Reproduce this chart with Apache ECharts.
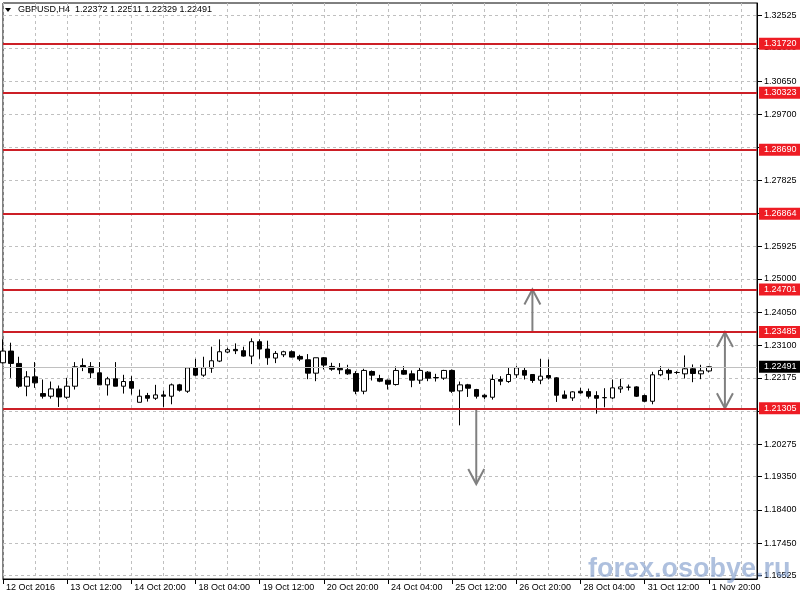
<!DOCTYPE html>
<html><head><meta charset="utf-8">
<script src="https://cdn.jsdelivr.net/npm/echarts@6/dist/echarts.min.js"></script>
<style>html,body{margin:0;padding:0;background:#fff}#c{width:800px;height:600px}</style>
</head><body><div id="c"></div>
<script>
const symbolName = 'GBPUSD,H4';
const opens  = [1.22606,1.22940,1.22587,1.21936,1.22204,1.21726,1.21650,1.21860,1.21621,1.21936,
                1.22529,1.22491,1.22319,1.21975,1.22147,1.21936,1.22070,1.21477,1.21669,1.21592,
                1.21688,1.21650,1.21975,1.21793,1.22462,1.22252,1.22453,1.22654,1.22912,1.22988,
                1.22950,1.22797,1.23208,1.22998,1.22740,1.22835,1.22921,1.22787,1.22692,1.22309,
                1.22749,1.22501,1.22443,1.22405,1.22300,1.21793,1.22357,1.22156,1.22109,1.21984,
                1.22386,1.22290,1.22109,1.22338,1.22185,1.22166,1.22386,1.21803,1.21975,1.21841,
                1.21678,1.21621,1.22128,1.22070,1.22262,1.22386,1.22271,1.22109,1.22242,1.22175,
                1.21688,1.21602,1.21793,1.21783,1.21669,1.21611,1.21602,1.21860,1.21908,1.21917,
                1.21669,1.21506,1.22262,1.22386,1.22328,1.22290,1.22434,1.22290,1.22372];
const closes = [1.22940,1.22587,1.21936,1.22204,1.22032,1.21650,1.21860,1.21630,1.21936,1.22491,
                1.22481,1.22319,1.21975,1.22147,1.21936,1.22070,1.21879,1.21650,1.21592,1.21688,
                1.21650,1.21975,1.21822,1.22462,1.22252,1.22462,1.22663,1.22921,1.22979,1.22950,
                1.22797,1.23208,1.22998,1.22749,1.22873,1.22921,1.22768,1.22711,1.22309,1.22749,
                1.22539,1.22424,1.22405,1.22290,1.21793,1.22386,1.22252,1.22080,1.21994,1.22386,
                1.22281,1.22109,1.22386,1.22166,1.22175,1.22386,1.21793,1.21975,1.21879,1.21650,
                1.21630,1.22128,1.22080,1.22271,1.22462,1.22252,1.22099,1.22223,1.22175,1.21678,
                1.21592,1.21774,1.21745,1.21650,1.21592,1.21607,1.21889,1.21917,1.21908,1.21650,
                1.21506,1.22262,1.22386,1.22309,1.22328,1.22434,1.22300,1.22376,1.22491];
const lows   = [1.22587,1.22175,1.21889,1.21650,1.21889,1.21583,1.21583,1.21344,1.21573,1.21841,
                1.22367,1.22166,1.21975,1.21669,1.21936,1.21726,1.21697,1.21477,1.21497,1.21544,
                1.21344,1.21420,1.21783,1.21745,1.22223,1.22204,1.22319,1.22625,1.22883,1.22854,
                1.22778,1.22568,1.22720,1.22548,1.22596,1.22768,1.22759,1.22654,1.22137,1.22080,
                1.22415,1.22376,1.22281,1.22262,1.21707,1.21707,1.22099,1.22051,1.21841,1.21956,
                1.22262,1.21908,1.22003,1.22080,1.22070,1.22118,1.21745,1.20818,1.21630,1.21583,
                1.21573,1.21554,1.21965,1.22032,1.22175,1.22128,1.22032,1.21994,1.22128,1.21487,
                1.21592,1.21516,1.21726,1.21583,1.21152,1.21334,1.21573,1.21745,1.21812,1.21630,
                1.21477,1.21420,1.22223,1.22109,1.22281,1.22156,1.22051,1.22137,1.22329];
const highs  = [1.23275,1.23179,1.22778,1.22367,1.22625,1.22128,1.22070,1.21956,1.22175,1.22625,
                1.22730,1.22625,1.22625,1.22204,1.22625,1.22262,1.22223,1.21841,1.21745,1.21975,
                1.21812,1.22013,1.22003,1.22462,1.22720,1.22778,1.23065,1.23275,1.23036,1.23160,
                1.23065,1.23304,1.23275,1.23237,1.22940,1.22950,1.22960,1.22835,1.22854,1.22749,
                1.22768,1.22606,1.22596,1.22548,1.22367,1.22434,1.22386,1.22262,1.22128,1.22501,
                1.22510,1.22386,1.22462,1.22367,1.22290,1.22405,1.22415,1.22070,1.22003,1.21860,
                1.21707,1.22271,1.22223,1.22481,1.22510,1.22481,1.22271,1.22720,1.22701,1.22195,
                1.21812,1.21793,1.21889,1.21869,1.21793,1.21879,1.22128,1.22147,1.21984,1.21936,
                1.21697,1.22348,1.22510,1.22434,1.22367,1.22816,1.22558,1.22548,1.22511];
const xTickLabels = ['12 Oct 2016','13 Oct 12:00','14 Oct 20:00','18 Oct 04:00','19 Oct 12:00','20 Oct 20:00',
                     '24 Oct 04:00','25 Oct 12:00','26 Oct 20:00','28 Oct 04:00','31 Oct 12:00','1 Nov 20:00'];
const yTickLabels = ['1.16525','1.17450','1.18400','1.19350','1.20275','1.21225','1.22175','1.23100','1.24050',
                     '1.25000','1.25925','1.26875','1.27825','1.28750','1.29700','1.30650','1.31600','1.32525'];
const levels = [1.31720,1.30323,1.28690,1.26864,1.24701,1.23485,1.21305];
const bidPrice = 1.22491;
const arrowBars = [66, 59, 90];
const arrowFrom = [1.23485, 1.21305, 1.21305];
const arrowTo   = [1.24701, 1.19142, 1.23485];
const arrowBoth = [0, 0, 1];
const emptyBarsRight = 6;

const FONT = 'Liberation Sans';
const nBars = opens.length;
const categories = [];
for (let i = 0; i < nBars + emptyBarsRight; i++) categories.push(String(i));
const candles = opens.map((o, i) => [o, closes[i], lows[i], highs[i]]);
const arrows = arrowBars.map((b, i) => [b, arrowFrom[i], arrowTo[i], arrowBoth[i]]);
const last = nBars - 1;
const titleText = symbolName + '  ' + [opens[last], highs[last], lows[last], closes[last]].map(v => v.toFixed(5)).join(' ');

const lvlLines = levels.map(v => ({
  yAxis: v,
  lineStyle: {color: '#cc1f26', width: 2, type: 'solid'},
  label: {show: true, position: 'end', distance: 2, formatter: p => Number(p.value).toFixed(5),
          backgroundColor: '#ee1c24', color: '#fff', padding: [2, 6, 1, 5], fontFamily: FONT, fontSize: 9}
}));
lvlLines.unshift({
  yAxis: bidPrice,
  lineStyle: {color: '#c0c0c0', width: 1, type: 'solid'},
  label: {show: true, position: 'end', distance: 2, formatter: p => Number(p.value).toFixed(5),
          backgroundColor: '#000', color: '#fff', padding: [2, 6, 1, 5], fontFamily: FONT, fontSize: 9}
});

const chart = echarts.init(document.getElementById('c'), null, {renderer: 'canvas'});
chart.setOption({
  animation: false,
  backgroundColor: '#ffffff',
  grid: {left: 3, top: 3, right: 43, bottom: 21, show: true, borderColor: '#000', borderWidth: 1, backgroundColor: 'transparent'},
  xAxis: {
    type: 'category', data: categories, boundaryGap: false,
    axisLine: {show: true, lineStyle: {color: '#000', width: 1}},
    axisTick: {show: true, interval: 7, length: 5, lineStyle: {color: '#000'}},
    axisLabel: {show: true, interval: 7, align: 'left', margin: 4, padding: [0, 0, 0, 3],
                color: '#000', fontFamily: FONT, fontSize: 9,
                formatter: (v, idx) => (idx % 8 === 0 && idx / 8 < xTickLabels.length) ? xTickLabels[idx / 8] : ''},
    splitLine: {show: true, interval: 3, lineStyle: {color: '#c0c0c0', type: [3, 3], width: 1}}
  },
  yAxis: {
    type: 'value', position: 'right', scale: true, min: 1.16428, max: 1.32885,
    axisLine: {show: true, lineStyle: {color: '#000', width: 1}},
    axisTick: {show: true, length: 5, customValues: yTickLabels.map(Number), lineStyle: {color: '#000'}},
    axisLabel: {show: true, margin: 7, customValues: yTickLabels.map(Number), color: '#000',
                fontFamily: FONT, fontSize: 9, formatter: v => v.toFixed(5)},
    splitLine: {show: true, lineStyle: {color: '#c0c0c0', type: [3, 3], width: 1}}
  },
  series: [{
    type: 'candlestick', data: candles, barWidth: 5,
    itemStyle: {color: '#ffffff', color0: '#000000', borderColor: '#000000', borderColor0: '#000000', borderWidth: 1},
    markLine: {silent: true, precision: 5, symbol: ['none', 'none'], animation: false, data: lvlLines}
  }, {
    type: 'custom', data: arrows, silent: true, z: 3,
    renderItem: function (params, api) {
      const x = api.value(0);
      const p1 = api.coord([x, api.value(1)]);
      const p2 = api.coord([x, api.value(2)]);
      const both = api.value(3);
      const st = {stroke: '#808080', lineWidth: 2};
      const d = p2[1] < p1[1] ? -1 : 1;
      const kids = [{type: 'line', shape: {x1: p1[0], y1: p1[1], x2: p2[0], y2: p2[1]}, style: st}];
      function head(tip, dir) {
        kids.push({type: 'polyline', shape: {points: [[tip[0] - 8, tip[1] - dir * 15], [tip[0], tip[1]], [tip[0] + 8, tip[1] - dir * 15]]}, style: Object.assign({fill: null}, st)});
      }
      head(p2, d);
      if (both) head(p1, -d);
      return {type: 'group', children: kids};
    }
  }],
  graphic: [
    {type: 'polygon', shape: {points: [[5, 8], [11, 8], [8, 12]]}, style: {fill: '#000'}},
    {type: 'text', left: 18, top: 5, style: {text: titleText, fill: '#000', font: '9px "' + FONT + '"'}},
    {type: 'text', left: 588, top: 556, z: 100, style: {text: 'forex.osobye.ru', fill: 'rgba(120,150,200,0.6)', font: 'bold 27px "' + FONT + '"'}}
  ]
});
</script></body></html>
